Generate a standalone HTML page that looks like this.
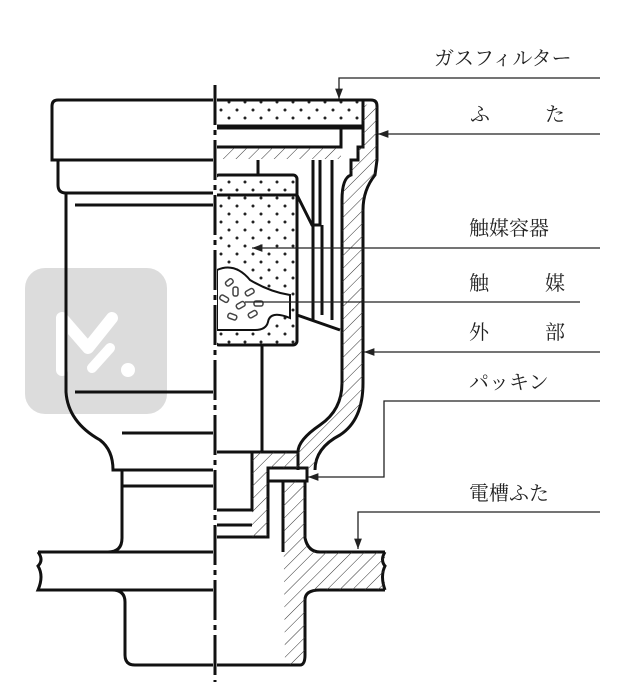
<!DOCTYPE html>
<html><head><meta charset="utf-8"><style>
html,body{margin:0;padding:0;background:#fff;}
svg{display:block}
text{font-family:"Liberation Serif","Noto Serif CJK SC","Noto Sans CJK JP",serif;font-size:20px;fill:#222}
</style></head><body>
<svg width="638" height="682" viewBox="0 0 638 682" xmlns="http://www.w3.org/2000/svg">
<defs>
<pattern id="h" width="9" height="9" patternUnits="userSpaceOnUse" patternTransform="rotate(45)">
<line x1="0" y1="0" x2="0" y2="9" stroke="#333" stroke-width="1"/></pattern>
<pattern id="d" width="16" height="16" patternUnits="userSpaceOnUse">
<circle cx="5" cy="6" r="1.5" fill="#222"/><circle cx="13" cy="14" r="1.5" fill="#222"/></pattern>
<marker id="a" markerWidth="8" markerHeight="6" refX="8" refY="3" orient="auto"><path d="M0,0 L8,3 L0,6z" fill="#222"/></marker>
</defs>
<!-- watermark -->
<rect x="25" y="268" width="142" height="146" rx="20" fill="#dcdcdc"/>
<path d="M62,370 V318 L88,348 L112,318" stroke="#fff" stroke-width="12" fill="none" stroke-linecap="round" stroke-linejoin="round"/>
<path d="M110,348 L92,368" stroke="#fff" stroke-width="10" stroke-linecap="round"/>
<circle cx="128" cy="370" r="7" fill="#fff"/>
<g fill="none" stroke="#111" stroke-width="3">
<path d="M215,100 H58 Q52,100 52,106 V160 H215"/>
<path d="M58,160 V185 Q58,193 66,193 H215"/>
<path d="M66,193 V392 Q68,422 100,440 Q113,450 113,470 H215"/>
<line x1="75" y1="205" x2="215" y2="205"/>
<line x1="75" y1="392" x2="215" y2="392"/>
<line x1="122" y1="433" x2="215" y2="433"/>
<path d="M122,470 V490"/>
<line x1="122" y1="486" x2="215" y2="486"/>
<path d="M122,486 V538 Q122,552 108,552 H38"/>
<path d="M38,552 Q44,560 38,566 Q44,576 38,590 H215"/>
<path d="M40,552 H215"/>
<path d="M112,590 Q125,590 125,602 V655 Q125,665 135,665 H300 Q305,665 305,655"/>
<rect x="215" y="100" width="148" height="26" fill="url(#d)"/>
<rect x="215" y="128" width="126" height="19"/>
<path d="M363,100 H371 Q377,100 377,106 V160 L375,175 Q363,190 363,210 V383 Q363,420 340,435 Q315,448 315,470"/>
<path d="M215,147 H341 V128 H363 V147 H358 V160 H351 V175 Q342,178 342,200 V383 Q342,410 320,425 Q298,440 298,452"/>
<rect x="215" y="175" width="82" height="170" rx="4" fill="url(#d)"/>
<line x1="215" y1="195" x2="297" y2="195"/>
<path d="M297,195 L312,225 H320 V160"/>
<line x1="258" y1="160" x2="258" y2="175"/>
<line x1="313" y1="160" x2="313" y2="320"/>
<line x1="332" y1="160" x2="332" y2="320"/>
<line x1="322" y1="225" x2="322" y2="315"/>
<path d="M297,315 L340,330"/>
<line x1="262" y1="345" x2="262" y2="452"/>
<path d="M215,452 H298 V470"/>
<rect x="268" y="468" width="39" height="13"/>
<path d="M252,452 V510 H215"/>
<path d="M268,481 V537 H215"/>
<line x1="215" y1="525" x2="252" y2="525"/>
<path d="M283,481 V552 M305,481 V538 Q308,552 320,552 H385 M385,590 H320 Q305,590 305,600 V655"/>
<path d="M385,552 Q380,560 385,566 Q380,576 385,590"/>
</g>
<g fill="url(#h)" stroke="none">
<path d="M363,106 Q377,100 377,106 V160 L375,175 Q363,190 363,210 V383 Q363,420 340,435 Q315,448 315,470 H298 V452 Q298,440 320,425 Q342,410 342,383 V200 Q342,178 351,175 V160 H358 V147 H363z"/>
<rect x="222" y="148" width="119" height="11"/>
<path d="M252,452 H298 V468 H268 V537 H252z"/>
<path d="M283,481 H305 V538 Q308,552 320,552 H385 V590 H320 Q305,590 305,600 V665 H285z"/>
</g>
<path d="M217,270 Q235,262 250,280 Q270,292 290,295 V318 Q270,310 268,322 Q266,330 255,330 H217z" fill="#fff" stroke="#111" stroke-width="2"/>
<g fill="none" stroke="#444" stroke-width="1.5">
<rect x="225" y="280" width="8" height="5" rx="2" transform="rotate(-40 229 282)"/>
<rect x="233" y="287" width="5" height="9" rx="2"/>
<rect x="245" y="290" width="9" height="5" rx="2" transform="rotate(-30 249 292)"/>
<rect x="220" y="296" width="9" height="5" rx="2" transform="rotate(30 224 298)"/>
<rect x="236" y="303" width="9" height="5" rx="2" transform="rotate(-30 240 305)"/>
<rect x="254" y="301" width="9" height="5" rx="2"/>
<rect x="228" y="314" width="9" height="5" rx="2" transform="rotate(20 232 316)"/>
<rect x="248" y="312" width="9" height="5" rx="2" transform="rotate(-30 252 314)"/>
</g>
<line x1="215" y1="85" x2="215" y2="682" stroke="#fff" stroke-width="4"/>
<line x1="215" y1="85" x2="215" y2="682" stroke="#111" stroke-width="3" stroke-dasharray="40,5,5,5"/>
<g stroke="#222" stroke-width="1.3" fill="none">
<path d="M600,78 H339 V99" marker-end="url(#a)"/>
<path d="M600,134 H378" marker-end="url(#a)"/>
<path d="M600,248 H252" marker-end="url(#a)"/>
<path d="M580,302 H245"/>
<path d="M600,352 H364" marker-end="url(#a)"/>
<path d="M600,401 H384 V477 H308" marker-end="url(#a)"/>
<path d="M600,512 H358 V549" marker-end="url(#a)"/>
</g>
<text x="434" y="65">ガスフィルター</text>
<text x="470" y="121">ふ</text><text x="545" y="121">た</text>
<text x="469" y="235">触媒容器</text>
<text x="469" y="290">触</text><text x="545" y="290">媒</text>
<text x="469" y="339">外</text><text x="545" y="339">部</text>
<text x="469" y="389">パッキン</text>
<text x="469" y="500">電槽ふた</text>
</svg>
</body></html>
